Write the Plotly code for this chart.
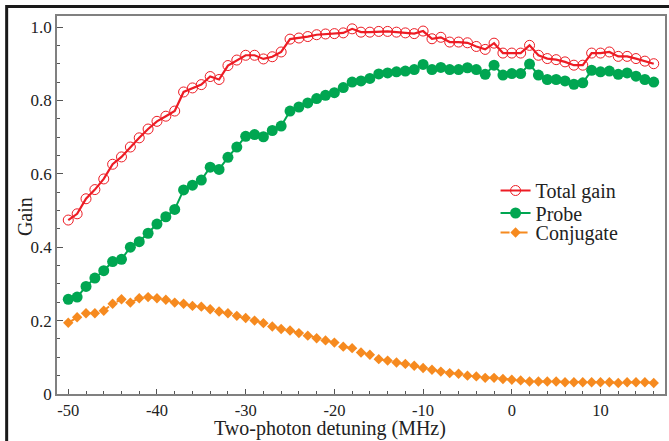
import plotly.graph_objects as go

detuning = [-50, -49, -48, -47, -46, -45, -44, -43, -42, -41,
            -40, -39, -38, -37, -36, -35, -34, -33, -32, -31,
            -30, -29, -28, -27, -26, -25, -24, -23, -22, -21,
            -20, -19, -18, -17, -16, -15, -14, -13, -12, -11,
            -10, -9, -8, -7, -6, -5, -4, -3, -2, -1,
            0, 1, 2, 3, 4, 5, 6, 7, 8, 9,
            10, 11, 12, 13, 14, 15, 16]

total_gain = [0.474, 0.491, 0.532, 0.557, 0.586, 0.626, 0.646, 0.673, 0.698, 0.722,
              0.743, 0.757, 0.771, 0.823, 0.834, 0.843, 0.865, 0.857, 0.895, 0.910,
              0.923, 0.923, 0.913, 0.919, 0.932, 0.967, 0.970, 0.974, 0.979, 0.981,
              0.982, 0.984, 0.995, 0.986, 0.986, 0.988, 0.988, 0.986, 0.984, 0.982,
              0.989, 0.968, 0.972, 0.959, 0.959, 0.957, 0.947, 0.939, 0.956, 0.929,
              0.929, 0.929, 0.950, 0.923, 0.914, 0.911, 0.905, 0.896, 0.896, 0.929,
              0.929, 0.932, 0.920, 0.920, 0.914, 0.907, 0.900]

probe = [0.258, 0.264, 0.293, 0.316, 0.336, 0.361, 0.367, 0.400, 0.415, 0.438,
         0.463, 0.483, 0.503, 0.556, 0.569, 0.583, 0.618, 0.612, 0.645, 0.673,
         0.702, 0.707, 0.701, 0.718, 0.730, 0.771, 0.782, 0.793, 0.805, 0.814,
         0.821, 0.835, 0.850, 0.853, 0.860, 0.872, 0.875, 0.878, 0.880, 0.884,
         0.898, 0.884, 0.890, 0.884, 0.884, 0.889, 0.884, 0.871, 0.896, 0.869,
         0.873, 0.873, 0.899, 0.869, 0.857, 0.857, 0.853, 0.844, 0.848, 0.882,
         0.878, 0.880, 0.871, 0.875, 0.866, 0.857, 0.850]

conjugate = [0.194, 0.209, 0.220, 0.220, 0.227, 0.246, 0.258, 0.249, 0.261, 0.264,
             0.261, 0.257, 0.249, 0.246, 0.240, 0.238, 0.231, 0.225, 0.220, 0.213,
             0.207, 0.200, 0.193, 0.184, 0.177, 0.173, 0.166, 0.159, 0.152, 0.146,
             0.140, 0.129, 0.125, 0.113, 0.107, 0.095, 0.091, 0.086, 0.082, 0.077,
             0.071, 0.066, 0.061, 0.057, 0.055, 0.050, 0.048, 0.044, 0.044, 0.041,
             0.039, 0.037, 0.034, 0.034, 0.034, 0.034, 0.032, 0.032, 0.032, 0.032,
             0.032, 0.032, 0.030, 0.032, 0.032, 0.032, 0.030]

x_ticks = [-50, -40, -30, -20, -10, 0, 10]
x_tick_labels = ["-50", "-40", "-30", "-20", "-10", "0", "10"]
y_ticks = [0, 0.2, 0.4, 0.6, 0.8, 1.0]
y_tick_labels = ["0", "0.2", "0.4", "0.6", "0.8", "1.0"]

RED = "#ED1C24"
GREEN = "#00A651"
ORANGE = "#F68A1F"
FONT = "Liberation Serif"

fig = go.Figure()
fig.add_trace(go.Scatter(
    x=detuning, y=total_gain, name="Total gain", mode="lines+markers",
    line=dict(color=RED, width=2.2), legend="legend",
    marker=dict(symbol="circle-open", size=10, color=RED, line=dict(width=1, color=RED)),
))
fig.add_trace(go.Scatter(
    x=detuning, y=probe, name="Probe", mode="lines+markers",
    line=dict(color=GREEN, width=2), legend="legend2",
    marker=dict(symbol="circle", size=11, color=GREEN),
))
fig.add_trace(go.Scatter(
    x=detuning, y=conjugate, name="Conjugate", mode="lines+markers",
    line=dict(color=ORANGE, width=2, dash="dash"), legend="legend3",
    marker=dict(symbol="diamond", size=8, color=ORANGE),
))

L, R, T, B = 57, 2, 16, 47
W, H = 669, 441
pw = W - L - R
ph = H - T - B

def px_x(p):
    return (p - L) / pw

def px_y(p):
    return (H - B - p) / ph

def legend_at(top_px):
    return dict(
        x=px_x(497), y=px_y(top_px), xanchor="left", yanchor="top",
        bgcolor="rgba(0,0,0,0)", borderwidth=0,
        font=dict(family=FONT, size=20, color="#222222"),
    )

fig.update_layout(
    width=W, height=H,
    margin=dict(l=L, r=R, t=T, b=B),
    paper_bgcolor="white", plot_bgcolor="white",
    font=dict(family=FONT, color="#222222"),
    showlegend=True,
    legend=legend_at(171),
    legend2=legend_at(193.5),
    legend3=legend_at(213),
    xaxis=dict(
        range=[-51.27, 17.27], tickvals=x_ticks, ticktext=x_tick_labels,
        ticks="inside", ticklen=5, tickwidth=1, tickcolor="#555555",
        minor=dict(dtick=2, tick0=0, ticks="inside", ticklen=3, tickwidth=1, tickcolor="#555555"),
        showline=True, linecolor="#808080", linewidth=1.5, mirror=True,
        showgrid=False, zeroline=False,
        tickfont=dict(family=FONT, size=16.5, color="#222222"),
    ),
    yaxis=dict(
        range=[0, 1.03], tickvals=y_ticks, ticktext=y_tick_labels,
        ticks="inside", ticklen=6, tickwidth=1, tickcolor="#555555",
        minor=dict(dtick=0.05, tick0=0, ticks="inside", ticklen=3.5, tickwidth=1, tickcolor="#555555"),
        showline=True, linecolor="#808080", linewidth=1.5, mirror=True,
        showgrid=False, zeroline=False,
        tickfont=dict(family=FONT, size=17, color="#222222"),
    ),
    annotations=[
        dict(text="Two-photon detuning (MHz)", x=px_x(331), y=px_y(428),
             xref="paper", yref="paper", xanchor="center", yanchor="middle",
             showarrow=False, font=dict(family=FONT, size=20, color="#222222")),
        dict(text="Gain", x=px_x(25), y=px_y(217), textangle=-90,
             xref="paper", yref="paper", xanchor="center", yanchor="middle",
             showarrow=False, font=dict(family=FONT, size=20, color="#222222")),
    ],
    shapes=[
        dict(type="rect", xref="paper", yref="paper",
             x0=px_x(6.5), x1=px_x(690), y0=px_y(470), y1=px_y(6.5),
             line=dict(color="#1a1a1a", width=3), layer="below"),
    ],
)

fig.write_html(
    "out.html",
    config={"displayModeBar": False},
    post_script="document.body.style.margin='0';document.body.style.overflow='hidden';",
)
